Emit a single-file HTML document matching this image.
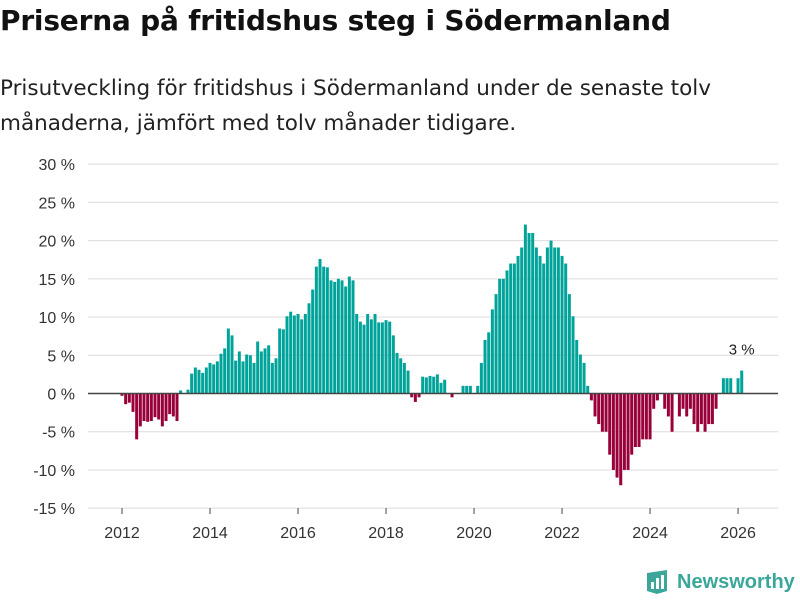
<!DOCTYPE html>
<html><head><meta charset="utf-8"><style>
body{margin:0;width:800px;height:600px;background:#fff;font-family:"Liberation Sans","DejaVu Sans",sans-serif;overflow:hidden;position:relative}
h1{position:absolute;left:0;top:4px;margin:0;font-family:"DejaVu Sans",sans-serif;font-size:28px;font-weight:bold;color:#111;letter-spacing:-0.2px}
p{position:absolute;left:0;top:71px;margin:0;font-family:"DejaVu Sans",sans-serif;font-size:21.5px;line-height:35px;color:#222}
</style></head><body>
<h1>Priserna på fritidshus steg i Södermanland</h1>
<p>Prisutveckling för fritidshus i Södermanland under de senaste tolv<br>månaderna, jämfört med tolv månader tidigare.</p>
<svg id="chart" width="800" height="600" style="position:absolute;left:0;top:0"></svg>
<script>
const startYear = 2012;
const values = [
-0.3,-1.4,-1.2,-2.4,-6,-4.3,-3.6,-3.7,-3.6,-3.1,-3.4,-4.3,
-3.6,-2.7,-3,-3.6,0.4,0,0.5,2.6,3.4,3.1,2.7,3.4,
4.0,3.8,4.2,5.2,5.9,8.5,7.6,4.3,5.5,4.2,5.1,5.0,
4.0,6.8,5.5,5.9,6.3,4.0,4.6,8.5,8.4,10.1,10.7,10.2,
10.4,9.7,10.4,11.8,13.6,16.6,17.6,16.6,16.5,14.8,14.6,15.0,
14.8,14.0,15.3,14.8,10.4,9.4,9.0,10.4,9.7,10.4,9.3,9.3,
9.6,9.4,7.6,5.3,4.6,4.0,3.0,-0.5,-1.1,-0.5,2.2,2.1,
2.3,2.2,2.5,1.4,1.8,0,-0.5,0,0,1.0,1.0,1.0,
0,1.0,4.0,7.0,8.0,11,13,15,15,16.1,17,17,
18,19.1,22.1,21,21,19.1,18,17,19.1,20,19.1,19.1,
18,17,13,10.1,7,5.1,4,1,-0.9,-3,-4,-5,
-5,-8,-10,-11,-12,-10,-10,-8,-7,-7,-6,-6,
-6,-2,-0.9,0,-2,-3,-5,0,-3,-2,-3,-2,
-4,-5,-4,-5,-4,-4,-2,0,2,2,2,0,
2,3];
const yTicks = [-15,-10,-5,0,5,10,15,20,25,30];
const xTicks = [2012,2014,2016,2018,2020,2022,2024,2026];
const lastLabel = "3 %";

const svg = document.getElementById('chart');
const NS = 'http://www.w3.org/2000/svg';
const y = v => 393.5 - v * 7.645;
const x = i => 122 + i * 3.667;
function mk(tag, attrs, text){const e=document.createElementNS(NS,tag);for(const k in attrs)e.setAttribute(k,attrs[k]);if(text!==undefined)e.textContent=text;svg.appendChild(e);return e;}
yTicks.forEach(t=>{
  if(t!==0){const g=mk('line',{x1:88,x2:778,y1:y(t),y2:y(t),stroke:'#dcdcdc','stroke-width':1});
  
  }
  const l=mk('text',{x:75,y:y(t)+6,'text-anchor':'end','font-size':16,fill:'#333'},t+' %');
  
  
});
values.forEach((v,i)=>{
  const top=Math.min(y(v),y(0)), h=Math.abs(y(v)-y(0));
  const r=mk('rect',{x:x(i)-1.5,y:top,width:3,height:h,fill:v>=0?'#00a39a':'#99003a'});
  
  
});
const z=mk('line',{x1:88,x2:778,y1:y(0),y2:y(0),stroke:'#444','stroke-width':1.5});


xTicks.forEach(yr=>{
  const i=(yr-startYear)*12;
  const tk=mk('line',{x1:x(i),x2:x(i),y1:508,y2:514,stroke:'#444'});
  
  
  const l=mk('text',{x:x(i),y:538,'text-anchor':'middle','font-size':16,fill:'#333'},yr);
  
  
});
const li=values.length-1;
const ll=mk('text',{x:x(li),y:y(values[li])-16,'text-anchor':'middle','font-size':15,fill:'#222'},lastLabel);


</script>
<div style="position:absolute;left:645px;top:569px;display:flex;align-items:center">
<svg width="24" height="26"><path d="M2 4 L22 1 L22 22 L12 25 L2 22 Z" fill="#3aa79a"/><rect x="6" y="13" width="3" height="7" fill="#fff"/><rect x="11" y="9" width="3" height="11" fill="#fff"/><rect x="16" y="6" width="3" height="14" fill="#fff"/></svg>
<span style="margin-left:8px;font-size:20px;font-weight:bold;color:#3aa79a">Newsworthy</span></div>
</body></html>
